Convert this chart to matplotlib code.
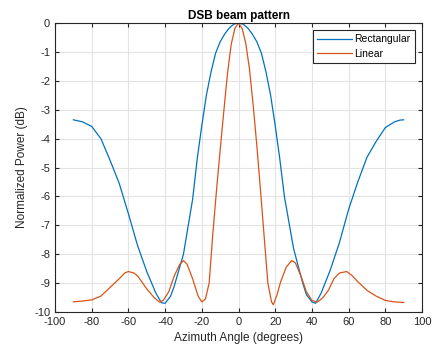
import matplotlib
matplotlib.use('Agg')
import matplotlib.pyplot as plt

# blue curve (rectangular window)
rect_az = [-90, -85, -80, -75, -70, -65, -60, -55, -50, -45, -42, -40, -37, -35,
           -30, -25, -22.5, -20, -17.5, -15, -12.5, -10, -7.5, -5, -2.5, 0,
           2.5, 5, 7.5, 10, 12.5, 15, 17.5, 20, 22.5, 25, 30, 35, 37, 40, 42, 45,
           50, 55, 60, 65, 70, 75, 80, 85, 88, 90]
rect_db = [-3.35, -3.42, -3.58, -4.0, -4.75, -5.55, -6.6, -7.7, -8.6, -9.35, -9.68, -9.7, -9.45, -9.1,
           -8.0, -6.1, -4.7, -3.55, -2.5, -1.7, -1.05, -0.65, -0.38, -0.17, -0.04, 0.0,
           -0.04, -0.17, -0.38, -0.65, -1.05, -1.7, -2.5, -3.55, -4.7, -6.0, -7.8, -9.0, -9.4, -9.65, -9.7, -9.35,
           -8.55, -7.6, -6.45, -5.5, -4.65, -4.1, -3.62, -3.42, -3.36, -3.35]

# orange curve (linear taper)
lin_az = [-90, -85, -80, -75, -70, -65, -62, -60, -57, -55, -50, -46, -43, -41, -38, -35, -32,
          -30, -28, -25, -22, -20, -18, -16, -14, -12, -10, -8, -6, -4, -2, 0,
          2, 4, 6, 8, 10, 12, 14, 16, 18, 19, 21, 23, 26, 29, 31, 34, 37, 40, 43,
          46, 49, 52, 55, 59, 62, 65, 70, 75, 80, 85, 90]
lin_db = [-9.65, -9.62, -9.58, -9.45, -9.15, -8.85, -8.65, -8.6, -8.65, -8.75, -9.2, -9.5, -9.66, -9.6, -9.3, -8.75, -8.35,
          -8.22, -8.35, -8.85, -9.45, -9.65, -9.55, -9.0, -7.3, -5.8, -4.4, -3.05, -1.75, -0.75, -0.19, 0.0,
          -0.19, -0.72, -1.6, -2.85, -4.25, -5.8, -7.4, -9.0, -9.65, -9.75, -9.4, -8.95, -8.45, -8.22, -8.3, -8.75, -9.3, -9.6, -9.66,
          -9.5, -9.25, -8.85, -8.65, -8.6, -8.75, -8.95, -9.25, -9.45, -9.6, -9.65, -9.67]

plt.rcParams['font.family'] = ['Liberation Sans', 'DejaVu Sans']
plt.rcParams['font.size'] = 8
plt.rcParams['axes.unicode_minus'] = False

fig = plt.figure(figsize=(4.32, 3.5), dpi=100)
ax = fig.add_axes([55 / 432, 1 - 312 / 350, 367 / 432, 289 / 350])

ax.plot(rect_az, rect_db, color='#0072BD', lw=0.9, label='Rectangular')
ax.plot(lin_az, lin_db, color='#D95319', lw=0.9, label='Linear')

ax.set_xlim(-100, 100)
ax.set_ylim(-10, 0)
ax.set_xticks(range(-100, 101, 20))
ax.set_yticks(range(-10, 1))
ax.grid(True, color='#e3e3e3', lw=0.8)
ax.set_axisbelow(True)
ax.tick_params(direction='in', length=3, colors='#262626', labelsize=8, top=True, right=True,
               labeltop=False, labelright=False)
for s in ax.spines.values():
    s.set_color('#262626')
    s.set_linewidth(0.8)

ax.set_title('DSB beam pattern', fontsize=8.5, fontweight='bold', pad=3)
ax.set_xlabel('Azimuth Angle (degrees)', fontsize=8.5, color='#262626')
ax.set_ylabel('Normalized Power (dB)', fontsize=8.5, color='#262626')

leg = ax.legend(loc='upper right', fancybox=False, fontsize=7.5, handlelength=3.3,
                borderpad=0.4, handletextpad=0.25, labelspacing=0.45,
                borderaxespad=0.7, framealpha=1)
leg.get_frame().set_edgecolor('#262626')
leg.get_frame().set_linewidth(0.8)

fig.savefig('out.png', dpi=100)
